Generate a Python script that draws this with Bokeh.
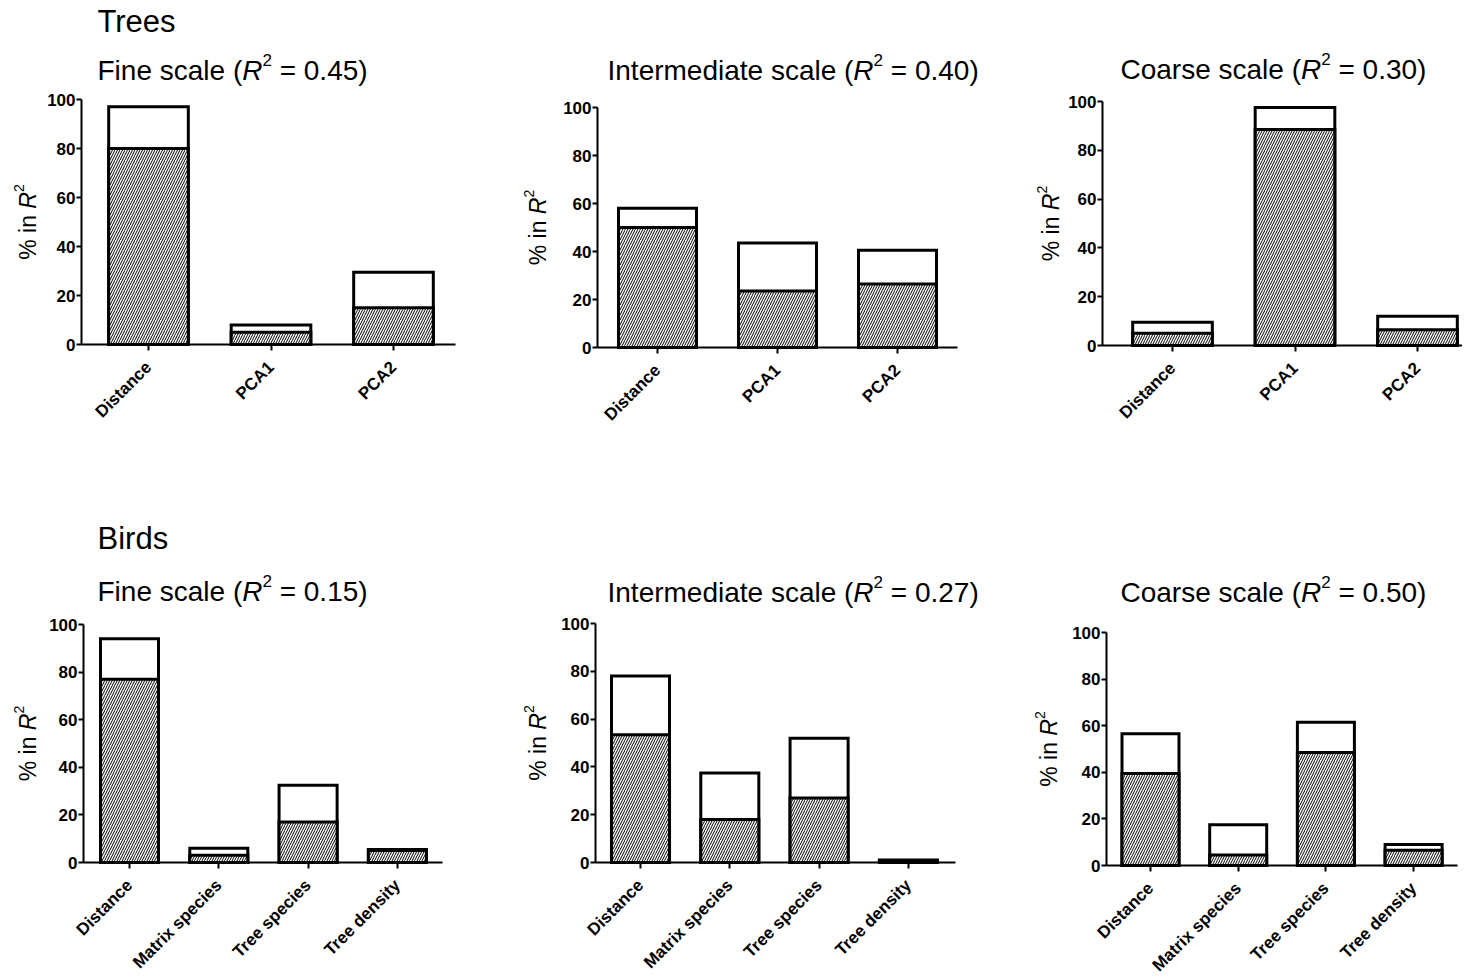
import math
from bokeh.plotting import figure
from bokeh.models import Range1d, FixedTicker, Label
from bokeh.layouts import column, row
from bokeh.embed import file_html
from bokeh.resources import INLINE

# ---------------- data ----------------
tree_vars = ["Distance", "PCA1", "PCA2"]
bird_vars = ["Distance", "Matrix species", "Tree species", "Tree density"]

trees_fine_total = [97, 8, 29.5]
trees_fine_hatched = [80, 5, 15]
trees_inter_total = [58, 43.5, 40.5]
trees_inter_hatched = [50, 23.5, 26.5]
trees_coarse_total = [9.5, 97.5, 12]
trees_coarse_hatched = [5, 88.5, 6.5]

birds_fine_total = [94, 6, 32.5, 5.5]
birds_fine_hatched = [77, 3, 17, 5]
birds_inter_total = [78, 37.5, 52, 1]
birds_inter_hatched = [53.5, 18, 27, 0.5]
birds_coarse_total = [56.5, 17.5, 61.5, 9]
birds_coarse_hatched = [39.5, 4.5, 48.5, 6.5]

scale_names = ["Fine scale", "Intermediate scale", "Coarse scale"]
trees_r2 = ["0.45", "0.40", "0.30"]
birds_r2 = ["0.15", "0.27", "0.50"]
group_titles = ["Trees", "Birds"]
y_ticks = [0, 20, 40, 60, 80, 100]

FONT = "Liberation Sans"
SHIFT = 11  # compensation of the label baseline placement (pixels)

# Arial / Liberation Sans advance widths (per 1000 em)
W = {' ': 278, '%': 889, '(': 333, ')': 333, '=': 584, '.': 278,
     'F': 611, 'i': 222, 'n': 556, 'e': 556, 's': 500, 'c': 500, 'a': 556,
     'l': 222, 'I': 278, 't': 278, 'r': 333, 'm': 833, 'd': 556, 'C': 722,
     'o': 556, 'R': 722, 'T': 611, 'B': 667}
for dch in "0123456789":
    W[dch] = 556


def tw(s, size):
    return sum(W.get(ch, 556) for ch in s) * size / 1000.0


def rich(p, x, y, segs, dx, dy, angle=0.0):
    """segs: list of (text, size, style, raise_px)"""
    cum = 0.0
    for text, size, style, rise in segs:
        body = text.lstrip(" ")
        lead = tw(text[:len(text) - len(body)], size)
        if angle == 0.0:
            xo, yo = dx + cum + lead, dy + rise + SHIFT
        else:
            xo, yo = dx - rise - SHIFT + 1, dy + cum + lead
        p.add_layout(Label(x=x, y=y, x_offset=xo, y_offset=yo, text=body,
                           angle=angle, text_font=FONT, text_font_size=f"{size}px",
                           text_font_style=style, text_color="black",
                           text_align="left", text_baseline="alphabetic"))
        cum += tw(text, size)
    return cum


def panel(cats, total, hatched, scale, r2, g, group=None):
    # g: canvas box (cl, ct, cw, ch) and plot-area geometry in page pixels
    S = g["S"]
    k = (g["BY"] - g["TY"]) / 100.0
    x0 = 0.5 - (g["FX"] - g["cl"]) / S
    x1 = x0 + g["cw"] / S
    y1 = 100 + (g["TY"] - g["ct"]) / k
    y0 = y1 - g["ch"] / k
    ox = 0.5 - (g["FX"] - g["OX"]) / S
    rx = 0.5 + (g["RX"] - g["FX"]) / S

    p = figure(width=g["cw"], height=g["ch"],
               x_range=Range1d(x0, x1), y_range=Range1d(y0, y1),
               output_backend="svg", toolbar_location=None, min_border=0)
    p.xgrid.visible = False
    p.ygrid.visible = False
    p.outline_line_color = None
    p.background_fill_color = "white"
    p.border_fill_color = "white"

    xpos = [i + 0.5 for i in range(len(cats))]
    p.vbar(x=xpos, width=0.65, bottom=0, top=total, fill_color="white",
           line_color="black", line_width=3, line_join="miter")
    p.vbar(x=xpos, width=0.65, bottom=0, top=hatched, fill_color="white",
           hatch_pattern="/", hatch_color="black", hatch_scale=5, hatch_weight=1,
           line_color="black", line_width=3, line_join="miter")

    ya = p.yaxis[0]
    ya.fixed_location = ox
    ya.bounds = (0, 100)
    ya.ticker = FixedTicker(ticks=y_ticks)
    ya.axis_line_width = 2
    ya.axis_line_color = "black"
    ya.major_tick_line_width = 2
    ya.major_tick_line_color = "black"
    ya.major_tick_out = 5
    ya.major_tick_in = 0
    ya.minor_tick_out = 0
    ya.minor_tick_in = 0
    ya.major_label_standoff = 1
    ya.major_label_text_font = FONT
    ya.major_label_text_font_style = "bold"
    ya.major_label_text_font_size = "17px"
    ya.major_label_text_color = "black"

    xa = p.xaxis[0]
    xa.fixed_location = 0
    xa.bounds = (ox, rx)
    xa.ticker = FixedTicker(ticks=xpos)
    xa.major_label_overrides = {x: c for x, c in zip(xpos, cats)}
    xa.major_label_orientation = math.pi / 4
    xa.axis_line_width = 2
    xa.axis_line_color = "black"
    xa.major_tick_line_width = 2
    xa.major_tick_line_color = "black"
    xa.major_tick_out = 6
    xa.major_tick_in = 0
    xa.minor_tick_out = 0
    xa.minor_tick_in = 0
    xa.major_label_standoff = 14
    xa.major_label_text_font = FONT
    xa.major_label_text_font_style = "bold"
    xa.major_label_text_font_size = "17px"
    xa.major_label_text_color = "black"

    # panel title: "<scale> (R^2 = value)"
    ts = 28
    rich(p, ox, 100, [(scale + " (", ts, "normal", 0),
                      ("R", ts, "italic", 0),
                      ("2", 17, "normal", 11),
                      (" = " + r2 + ")", ts, "normal", 0)],
         g["tdx"], g["tdy"])

    # y-axis label "% in R^2"
    ys = 23
    segs = [("% in ", ys, "normal", 0), ("R", ys, "italic", 0), ("2", 14, "normal", 9)]
    L = tw("% in ", ys) + tw("R", ys) + tw("2", 14)
    rich(p, ox, 50, segs, g["ydx"], -L / 2, angle=math.pi / 2)

    if group is not None:
        p.add_layout(Label(x=ox, y=100, x_offset=g["tdx"], y_offset=g["gdy"] + SHIFT,
                           text=group, text_font=FONT, text_font_size="31px",
                           text_color="black", text_align="left",
                           text_baseline="alphabetic"))
    return p


# canvas boxes and plot-area geometry (page pixels)
G1 = dict(cl=0, ct=0, cw=500, ch=520, OX=81, RX=455, FX=148, S=122.5, TY=99, BY=344,
          tdx=16, tdy=18, ydx=-44, gdy=67)
G2 = dict(cl=500, ct=0, cw=510, ch=520, OX=597, RX=957, FX=657, S=120.0, TY=107, BY=347,
          tdx=10, tdy=26, ydx=-50)
G3 = dict(cl=1010, ct=0, cw=452, ch=520, OX=1102, RX=1462, FX=1172, S=122.5, TY=101, BY=345,
          tdx=18, tdy=21, ydx=-42)
G4 = dict(cl=0, ct=520, cw=500, ch=456, OX=83, RX=442, FX=129, S=89.3, TY=624, BY=862,
          tdx=14, tdy=22, ydx=-46, gdy=75)
G5 = dict(cl=500, ct=520, cw=510, ch=456, OX=595, RX=955, FX=640, S=89.3, TY=623, BY=862,
          tdx=12, tdy=20, ydx=-48)
G6 = dict(cl=1010, ct=520, cw=452, ch=456, OX=1106, RX=1457, FX=1150, S=87.7, TY=632, BY=865,
          tdx=14, tdy=29, ydx=-48)

p1 = panel(tree_vars, trees_fine_total, trees_fine_hatched, scale_names[0], trees_r2[0], G1, group_titles[0])
p2 = panel(tree_vars, trees_inter_total, trees_inter_hatched, scale_names[1], trees_r2[1], G2)
p3 = panel(tree_vars, trees_coarse_total, trees_coarse_hatched, scale_names[2], trees_r2[2], G3)
p4 = panel(bird_vars, birds_fine_total, birds_fine_hatched, scale_names[0], birds_r2[0], G4, group_titles[1])
p5 = panel(bird_vars, birds_inter_total, birds_inter_hatched, scale_names[1], birds_r2[1], G5)
p6 = panel(bird_vars, birds_coarse_total, birds_coarse_hatched, scale_names[2], birds_r2[2], G6)

layout = column(row(p1, p2, p3), row(p4, p5, p6))
open("out.html", "w").write(file_html(layout, INLINE))
